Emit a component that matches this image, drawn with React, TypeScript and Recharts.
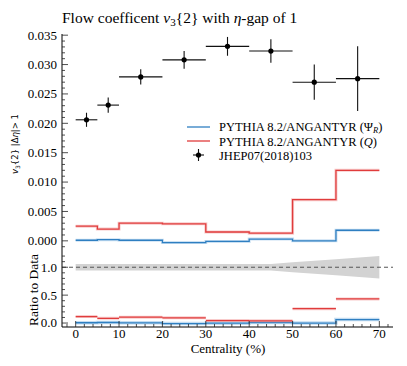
import React from 'react';
import {
  ComposedChart, Line, Scatter, ErrorBar, Area, XAxis, YAxis, ReferenceLine,
} from 'recharts';

// centrality bins (%)
const binEdges = [0, 5, 10, 20, 30, 40, 50, 60, 70];
const binCenters = [2.5, 7.5, 15, 25, 35, 45, 55, 65];

// JHEP07(2018)103 data
const dataV3 = [0.0206, 0.0231, 0.0279, 0.0308, 0.0331, 0.0323, 0.027, 0.0276];
const dataErr = [0.0012, 0.0013, 0.0013, 0.0015, 0.0016, 0.002, 0.003, 0.0055];

// PYTHIA 8.2/ANGANTYR
const angantyrPsiR = [0.0001, 0.0002, 0.0001, -0.0003, -0.0001, 0.0003, 0.0, 0.0018];
const angantyrQ = [0.0025, 0.002, 0.003, 0.0029, 0.0015, 0.0013, 0.007, 0.012];

// ratios to data
const ratioPsiR = [0.005, 0.01, 0.004, -0.01, -0.003, 0.01, 0.0, 0.062];
const ratioQ = [0.115, 0.085, 0.105, 0.093, 0.045, 0.04, 0.258, 0.433];
const bandX = [0, 45, 50, 60, 70];
const bandHalf = [0.06, 0.06, 0.09, 0.145, 0.2];

// ticks
const xMajor = [0, 10, 20, 30, 40, 50, 60, 70];
const topYMajor = [0, 0.005, 0.01, 0.015, 0.02, 0.025, 0.03, 0.035];
const ratioYMajor = [0, 0.5, 1];

const range = (a: number, b: number, step: number) => {
  const n = Math.round((b - a) / step);
  return Array.from({ length: n + 1 }, (_, i) => +(a + i * step).toFixed(6));
};
const xTicks = range(-2, 72, 2);
const topYTicks = range(-0.001, 0.035, 0.001);
const ratioYTicks = range(0, 1.2, 0.1);

const BLUE = '#2f7fc1';
const BLUE_LIGHT = '#a9cdeb';
const RED = '#e03c3c';
const RED_LIGHT = '#f4a9a9';
const SERIF = 'Liberation Serif';

const stepData = (vals: number[]) =>
  binEdges.map((x, i) => ({ x, y: vals[Math.min(i, vals.length - 1)] }));

const segData = (vals: number[]) =>
  vals.flatMap((v, i) => [
    { x: binEdges[i], y: v },
    { x: binEdges[i + 1], y: v },
    { x: binEdges[i + 1], y: null },
  ]);

const points = binCenters.map((x, i) => ({
  x, y: dataV3[i], ey: dataErr[i], ex: binEdges[i + 1] - x,
}));

const band = bandX.map((x, i) => ({ x, y: [1 - bandHalf[i], 1 + bandHalf[i]] }));

const isMajor = (v: number, majors: number[]) => majors.some((m) => Math.abs(m - v) < 1e-7);

const MAJ = 6;
const MIN = 3;

const makeTick = (side: 'bottom' | 'top' | 'left' | 'right', majors: number[], fmt?: (v: number) => string) =>
  (props: any) => {
    const { x, y, payload } = props;
    const v = payload.value as number;
    const maj = isMajor(v, majors);
    const len = maj ? MAJ : MIN;
    let line;
    if (side === 'bottom') line = <line x1={x} y1={y} x2={x} y2={y - len} />;
    else if (side === 'top') line = <line x1={x} y1={y} x2={x} y2={y + len} />;
    else if (side === 'left') line = <line x1={x} y1={y} x2={x + len} y2={y} />;
    else line = <line x1={x} y1={y} x2={x - len} y2={y} />;
    let label = null;
    if (fmt && maj) {
      const style = { fontFamily: SERIF, fontSize: 13 };
      if (side === 'bottom')
        label = <text x={x} y={y + 11} textAnchor="middle" fill="#000" stroke="none" style={style}>{fmt(v)}</text>;
      else if (side === 'left')
        label = <text x={x - 5} y={y} dy="0.34em" textAnchor="end" fill="#000" stroke="none" style={style}>{fmt(v)}</text>;
    }
    return (
      <g stroke="#222" strokeWidth={0.8}>
        {line}
        {label}
      </g>
    );
  };

const axisCommon = {
  tickLine: false,
  tickSize: 0,
  tickMargin: 0,
  interval: 0 as const,
  allowDataOverflow: true,
  axisLine: { stroke: '#000', strokeWidth: 1 },
};

const xDomain: [number, number] = [-3.15, 73.15];

function TopPanel() {
  return (
    <ComposedChart width={407} height={262} margin={{ top: 34, right: 14, bottom: 10, left: 0 }}>
      <XAxis xAxisId="b" type="number" dataKey="x" domain={xDomain} ticks={xTicks} height={0}
        tick={makeTick('bottom', xMajor)} {...axisCommon} />
      <XAxis xAxisId="t" orientation="top" type="number" dataKey="x" domain={xDomain} ticks={xTicks} height={0}
        tick={makeTick('top', xMajor)} {...axisCommon} />
      <YAxis yAxisId="l" type="number" domain={[-0.0019, 0.0352]} ticks={topYTicks} width={62}
        tick={makeTick('left', topYMajor, (v) => v.toFixed(3))} {...axisCommon} />
      <YAxis yAxisId="r" orientation="right" type="number" domain={[-0.0019, 0.0352]} ticks={topYTicks} width={0}
        tick={makeTick('right', topYMajor)} {...axisCommon} />

      <Line xAxisId="b" yAxisId="l" data={stepData(angantyrPsiR)} dataKey="y" type="stepAfter"
        stroke={BLUE_LIGHT} strokeWidth={3} strokeOpacity={0.6} dot={false} isAnimationActive={false} />
      <Line xAxisId="b" yAxisId="l" data={stepData(angantyrPsiR)} dataKey="y" type="stepAfter"
        stroke={BLUE} strokeWidth={1.3} dot={false} isAnimationActive={false} />
      <Line xAxisId="b" yAxisId="l" data={stepData(angantyrQ)} dataKey="y" type="stepAfter"
        stroke={RED_LIGHT} strokeWidth={3} strokeOpacity={0.6} dot={false} isAnimationActive={false} />
      <Line xAxisId="b" yAxisId="l" data={stepData(angantyrQ)} dataKey="y" type="stepAfter"
        stroke={RED} strokeWidth={1.3} dot={false} isAnimationActive={false} />

      <Scatter xAxisId="b" yAxisId="l" data={points} dataKey="y" isAnimationActive={false}
        shape={(p: any) => <circle cx={p.cx} cy={p.cy} r={2.6} fill="#000" />}>
        <ErrorBar dataKey="ey" direction="y" width={0} stroke="#111" strokeWidth={1.1} />
        <ErrorBar dataKey="ex" direction="x" width={0} stroke="#111" strokeWidth={1.1} />
      </Scatter>
    </ComposedChart>
  );
}

function RatioPanel() {
  return (
    <ComposedChart width={407} height={366} margin={{ top: 252, right: 14, bottom: 0, left: 0 }}>
      <XAxis xAxisId="b" type="number" dataKey="x" domain={xDomain} ticks={xTicks} height={39}
        tick={makeTick('bottom', xMajor, (v) => String(v))} {...axisCommon} />
      <XAxis xAxisId="t" orientation="top" type="number" dataKey="x" domain={xDomain} ticks={xTicks} height={0}
        tick={makeTick('top', xMajor)} {...axisCommon} />
      <YAxis yAxisId="l" type="number" domain={[-0.071, 1.273]} ticks={ratioYTicks} width={62}
        tick={makeTick('left', ratioYMajor, (v) => v.toFixed(1))} {...axisCommon} />
      <YAxis yAxisId="r" orientation="right" type="number" domain={[-0.071, 1.273]} ticks={ratioYTicks} width={0}
        tick={makeTick('right', ratioYMajor)} {...axisCommon} />

      <Area xAxisId="b" yAxisId="l" data={band} dataKey="y" type="linear" fill="#d3d3d3" fillOpacity={1}
        stroke="none" isAnimationActive={false} />
      <ReferenceLine xAxisId="b" yAxisId="l" y={1} stroke="#555" strokeDasharray="4 3" strokeWidth={1} />

      <Line xAxisId="b" yAxisId="l" data={stepData(ratioPsiR)} dataKey="y" type="stepAfter"
        stroke={BLUE_LIGHT} strokeWidth={3.5} strokeOpacity={0.7} dot={false} isAnimationActive={false} />
      <Line xAxisId="b" yAxisId="l" data={stepData(ratioPsiR)} dataKey="y" type="stepAfter"
        stroke={BLUE} strokeWidth={1.3} dot={false} isAnimationActive={false} />
      <Line xAxisId="b" yAxisId="l" data={segData(ratioQ)} dataKey="y" type="linear"
        stroke={RED_LIGHT} strokeWidth={3} strokeOpacity={0.6} dot={false} isAnimationActive={false} />
      <Line xAxisId="b" yAxisId="l" data={segData(ratioQ)} dataKey="y" type="linear"
        stroke={RED} strokeWidth={1.3} dot={false} isAnimationActive={false} />
    </ComposedChart>
  );
}

function Overlay() {
  const serif = { fontFamily: SERIF };
  return (
    <svg width={407} height={366} style={{ position: 'absolute', left: 0, top: 0, pointerEvents: 'none' }}>
      <text x={62} y={22.5} style={serif} fontSize={15.5} fill="#000">
        Flow coefficent <tspan fontStyle="italic">v</tspan>
        <tspan fontSize={11} dy={3}>3</tspan>
        <tspan dy={-3}>{'{2} with '}</tspan>
        <tspan fontStyle="italic">η</tspan>-gap of 1
      </text>

      <text transform="translate(18,144) rotate(-90)" textAnchor="middle" style={{ fontFamily: 'DejaVu Sans' }} fontSize={8.5} fill="#000">
        <tspan fontStyle="italic">v</tspan>
        <tspan fontSize={6} dy={2}>3</tspan>
        <tspan dy={-2}>{'{2} |Δ'}</tspan>
        <tspan fontStyle="italic">η</tspan>
        {'|> 1'}
      </text>

      <text transform="translate(37.5,290) rotate(-90)" textAnchor="middle" style={serif} fontSize={13.5} fill="#000">
        Ratio to Data
      </text>
      <text x={228} y={352.5} textAnchor="middle" style={serif} fontSize={13} fill="#000">
        Centrality (%)
      </text>

      {/* legend */}
      <line x1={187} y1={127} x2={210} y2={127} stroke={BLUE} strokeWidth={1.3} />
      <text x={219} y={131} style={serif} fontSize={12.5} fill="#000">
        PYTHIA 8.2/ANGANTYR (Ψ<tspan fontSize={8.5} fontStyle="italic" dy={2}>R</tspan><tspan dy={-2}>)</tspan>
      </text>
      <line x1={187} y1={141} x2={210} y2={141} stroke={RED} strokeWidth={1.3} />
      <text x={219} y={145.5} style={serif} fontSize={12.5} fill="#000">
        PYTHIA 8.2/ANGANTYR (<tspan fontStyle="italic">Q</tspan>)
      </text>
      <line x1={193} y1={155} x2={204} y2={155} stroke="#111" strokeWidth={1.1} />
      <line x1={198.5} y1={149} x2={198.5} y2={161} stroke="#111" strokeWidth={1.1} />
      <circle cx={198.5} cy={155} r={2.6} fill="#000" />
      <text x={219} y={160} style={serif} fontSize={12.5} fill="#000">JHEP07(2018)103</text>
    </svg>
  );
}

export default function App() {
  return (
    <div style={{ position: 'absolute', left: 0, top: 0, width: 407, height: 366, background: '#fff' }}>
      <div style={{ position: 'absolute', left: 0, top: 0 }}>
        <TopPanel />
      </div>
      <div style={{ position: 'absolute', left: 0, top: 0 }}>
        <RatioPanel />
      </div>
      <Overlay />
    </div>
  );
}
